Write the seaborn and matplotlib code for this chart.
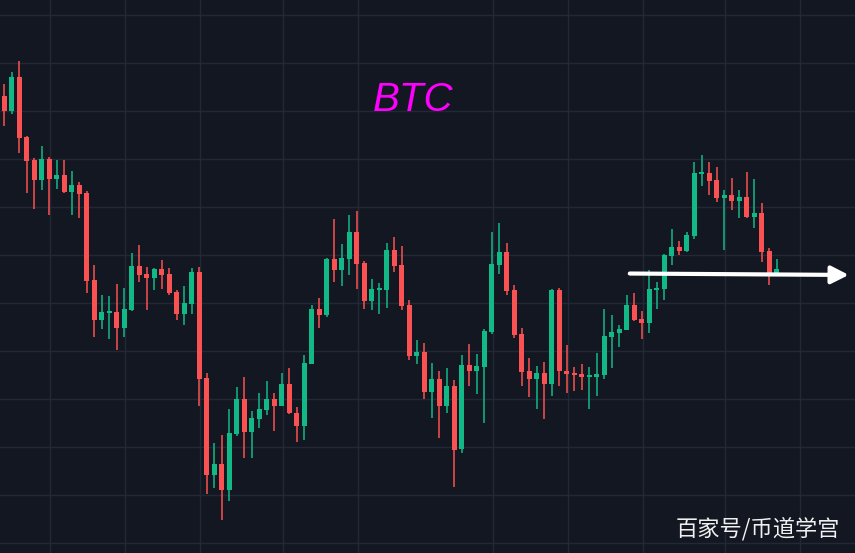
import numpy as np
import pandas as pd
import seaborn as sns
import matplotlib.pyplot as plt

# BTC daily candles
open_ = [10659, 10503, 10857, 10232, 9992, 9784, 10003, 9794, 9836, 9659,
         9732, 9649, 8742, 8326, 8399, 8409, 8242, 8430, 8888, 8805,
         8763, 8857, 8805, 8617, 8388, 8492, 8826, 7721, 6711, 6826,
         6555, 7138, 7503, 7159, 7294, 7388, 7503, 7430, 7659, 7357,
         7221, 7867, 8440, 8378, 8961, 8846, 8961, 9242, 8919, 8524,
         8638, 8638, 9055, 8899, 8482, 7951, 7992, 7576, 7711, 7430,
         7638, 6982, 7857, 7794, 7836, 8201, 8899, 9034, 8638, 8180,
         7794, 7711, 7774, 7659, 8638, 7794, 7774, 7763, 7732, 7732,
         7753, 8149, 8190, 8221, 8482, 8336, 8294, 8638, 8649, 8992,
         9086, 9044, 9201, 9846, 9857, 9784, 9596, 9628, 9565, 9607,
         9399, 9440, 9044, 8815]
high = [10784, 10909, 11024, 10242, 10013, 10138, 10024, 9992, 9992, 9878,
        9763, 9669, 8899, 8586, 8576, 8701, 8659, 9024, 9107, 8878,
        8867, 8951, 8867, 8638, 8680, 8867, 8878, 7774, 7044, 7128,
        7399, 7628, 7732, 7378, 7565, 7690, 7565, 7774, 7826, 7419,
        7961, 8482, 8555, 8971, 9378, 9117, 9419, 9461, 8940, 8753,
        8711, 9128, 9190, 9096, 8534, 8117, 8086, 7878, 7794, 7826,
        7701, 7961, 8076, 7971, 8232, 9242, 9336, 9128, 8690, 8242,
        7930, 7846, 7888, 8649, 8659, 8065, 7836, 7867, 7836, 7982,
        8440, 8378, 8274, 8586, 8607, 8419, 8846, 8721, 9013, 9274,
        9149, 9242, 9971, 10044, 9971, 9919, 9680, 9805, 9680, 9867,
        9794, 9544, 9076, 8961]
low = [10346, 10471, 10065, 9649, 9482, 9680, 9419, 9690, 9649, 9419,
       9388, 8607, 8149, 8232, 8128, 8013, 8149, 8419, 8721, 8430,
       8638, 8649, 8586, 8326, 8274, 8388, 7430, 6513, 6576, 6242,
       6440, 7117, 6888, 6888, 7201, 7336, 7169, 7430, 7346, 7055,
       7076, 7867, 8242, 8357, 8721, 8680, 8794, 8649, 8440, 8430,
       8388, 8451, 8826, 8430, 7909, 7867, 7503, 7305, 7096, 7357,
       6586, 6940, 7638, 7555, 7253, 8180, 8805, 8586, 8138, 7638,
       7524, 7399, 7294, 7534, 7638, 7565, 7586, 7596, 7399, 7534,
       7711, 7826, 8044, 8221, 8315, 8128, 8190, 8440, 8534, 8899,
       9003, 9034, 9169, 9721, 9628, 9555, 9055, 9471, 9388, 9388,
       9284, 8930, 8690, 8815]
close = [10503, 10857, 10221, 9982, 9784, 10003, 9794, 9836, 9659, 9732,
         9638, 8732, 8326, 8409, 8409, 8242, 8440, 8888, 8794, 8763,
         8857, 8794, 8607, 8388, 8503, 8826, 7711, 6711, 6826, 6555,
         7149, 7503, 7159, 7305, 7399, 7503, 7430, 7659, 7357, 7221,
         7878, 8440, 8378, 8961, 8846, 8971, 9242, 8909, 8524, 8649,
         8649, 9055, 8888, 8471, 7951, 7992, 7576, 7711, 7430, 7638,
         6971, 7857, 7794, 7846, 8211, 8909, 9034, 8628, 8169, 7784,
         7711, 7774, 7659, 8638, 7794, 7763, 7753, 7732, 7742, 7763,
         8159, 8201, 8232, 8482, 8326, 8294, 8649, 8659, 9003, 9086,
         9044, 9211, 9857, 9857, 9774, 9596, 9628, 9565, 9607, 9399,
         9440, 9034, 8815, 8857]

# candle index of the date grid lines
date_lines = [6, 16, 26, 37, 47, 65, 75, 85, 96, 106]

# support line drawn on the chart (candle index, price)
support_start = (83.4, 8810)
support_end = (112.6, 8795)

df = pd.DataFrame({'open': open_, 'high': high, 'low': low, 'close': close})
df['x'] = np.arange(len(df))
df['up'] = df['close'] >= df['open']

bg = '#131722'
up_c = '#12b886'
dn_c = '#fa5252'

sns.set_theme(style='dark', rc={'axes.facecolor': bg, 'figure.facecolor': bg})
plt.rcParams['font.family'] = ['Liberation Sans', 'DejaVu Sans']

fig = plt.figure(figsize=(8.55, 5.53), dpi=100)
ax = fig.add_axes([0, 0, 1, 1])
ax.set_facecolor(bg)

ax.set_xlim(-0.573, 113.43)
ax.set_ylim(5899, 11659)

# grid
for xl in date_lines:
    ax.axvline(xl + 0.1, color='#232836', lw=1, zorder=0)
for yl in np.arange(6000, 11600, 500):
    ax.axhline(yl, color='#232836', lw=1, zorder=0)

colors = np.where(df['up'], up_c, dn_c)
ax.vlines(df['x'], df['low'], df['high'], colors=colors, lw=1.1, zorder=2)
body_bottom = df[['open', 'close']].min(axis=1)
body_h = (df['close'] - df['open']).abs().clip(lower=25)
ax.bar(df['x'], body_h, bottom=body_bottom, width=0.66, color=colors,
       linewidth=0, zorder=3)

ax.annotate('', xy=support_end, xytext=support_start,
            arrowprops=dict(arrowstyle='-|>,head_length=0.75,head_width=0.38',
                            color='white', lw=3,
                            mutation_scale=14, shrinkA=0, shrinkB=0),
            zorder=5)

fig.text(0.483, 0.82, 'BTC', color='#ff00ff', fontsize=29, style='italic',
         ha='center', va='center', family=['Liberation Sans', 'DejaVu Sans'])
fig.text(0.983, 0.044, '百家号/币道学宫', color='#f0f0f0', fontsize=16,
         ha='right', va='center', family=['Noto Sans CJK SC', 'DejaVu Sans'])

ax.set_xticks([])
ax.set_yticks([])
for s in ax.spines.values():
    s.set_visible(False)

fig.savefig('out.png', dpi=100, facecolor=bg)
